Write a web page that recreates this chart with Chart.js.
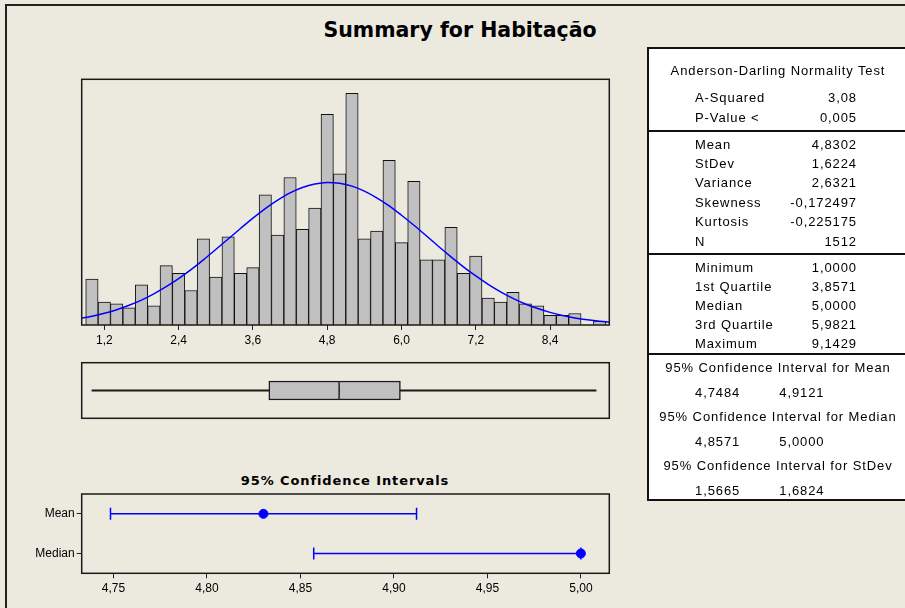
<!DOCTYPE html>
<html>
<head>
<meta charset="utf-8">
<title>Summary for Habitação</title>
<script src="https://cdn.jsdelivr.net/npm/chart.js@4.4.1/dist/chart.umd.min.js"></script>
<style>
  body { margin: 0; width: 905px; height: 608px; overflow: hidden; position: relative;
         background: #ECE9DF; font-family: 'Liberation Sans', Arial, sans-serif; color: #000; }
  #frame { position: absolute; left: 5px; top: 4px; width: 1000px; height: 700px;
           border: 2px solid #222; box-sizing: border-box; }
  #title { position: absolute; left: 210px; width: 500px; top: 18px; height: 26px; line-height: 26px;
           text-align: center; font: bold 20.5px 'DejaVu Sans', sans-serif; }
  #ciTitle { position: absolute; left: 195px; width: 300px; top: 473px; height: 18px; line-height: 18px;
             text-align: center; font: bold 13px 'DejaVu Sans', sans-serif; letter-spacing: 0.9px; }
  #statBox { position: absolute; left: 647px; top: 47px; width: 300px; height: 454px;
             background: #fff; border: 2px solid #111; box-sizing: border-box; }
  .rule { position: absolute; left: 647px; width: 300px; height: 2px; background: #111; }
  .txt { position: absolute; height: 16px; line-height: 16px; font-size: 13px; letter-spacing: 0.9px;
         white-space: nowrap; }
  canvas { position: absolute; }
  #hist { left: 61px; top: 69px; }
  #box { left: 71px; top: 353px; }
  #ci { left: 20px; top: 484px; }
</style>
</head>
<body>
<div id="frame"></div>
<div id="title">Summary for Habitação</div>
<canvas id="hist" width="569" height="286"></canvas>
<canvas id="box" width="549" height="76"></canvas>
<div id="ciTitle">95% Confidence Intervals</div>
<canvas id="ci" width="600" height="120"></canvas>
<div id="statBox"></div>

<script>
// Histograma: centros das classes (largura 0,2) e contagens
const binCenters = [1.0, 1.2, 1.4, 1.6, 1.8, 2.0, 2.2, 2.4, 2.6, 2.8, 3.0, 3.2, 3.4, 3.6,
                    3.8, 4.0, 4.2, 4.4, 4.6, 4.8, 5.0, 5.2, 5.4, 5.6, 5.8, 6.0, 6.2, 6.4,
                    6.6, 6.8, 7.0, 7.2, 7.4, 7.6, 7.8, 8.0, 8.2, 8.4, 8.6, 8.8, 9.0, 9.2];
const binCounts = [24, 12, 11, 9, 21, 10, 31, 27, 18, 45, 25, 46, 27, 30,
                   68, 47, 77, 50, 61, 110, 79, 121, 45, 49, 86, 43, 75, 34,
                   34, 51, 27, 36, 14, 12, 17, 11, 10, 5, 5, 6, 0, 2];

// Curva normal ajustada (alturas estimadas no gráfico)
const curveX = [0.8, 1.0, 1.2, 1.4, 1.6, 1.8, 2.0, 2.2, 2.4, 2.6, 2.8, 3.0, 3.2, 3.4, 3.6,
                3.8, 4.0, 4.2, 4.4, 4.6, 4.8, 5.0, 5.2, 5.4, 5.6, 5.8, 6.0, 6.2, 6.4, 6.6,
                6.8, 7.0, 7.2, 7.4, 7.6, 7.8, 8.0, 8.2, 8.4, 8.6, 8.8, 9.0, 9.2, 9.4];
const curveY = [3.4, 4.6, 6.1, 8.0, 10.3, 13.0, 16.3, 20.0, 24.2, 28.9, 34.0, 39.4, 44.9, 50.4, 55.8,
                60.8, 65.2, 69.0, 71.8, 73.6, 74.4, 74.0, 72.5, 69.9, 66.4, 62.2, 57.3, 52.1, 46.6, 41.0,
                35.6, 30.4, 25.6, 21.2, 17.3, 13.9, 11.0, 8.6, 6.6, 5.0, 3.7, 2.7, 2.0, 1.4];

const histTicks = [1.2, 2.4, 3.6, 4.8, 6.0, 7.2, 8.4];
const histRange = [0.835, 9.356];

// Estatísticas
const adTest = [['A-Squared', '3,08'], ['P-Value <', '0,005']];
const moments = [['Mean', 4.8302, 4], ['StDev', 1.6224, 4], ['Variance', 2.6321, 4],
                 ['Skewness', -0.172497, 6], ['Kurtosis', -0.225175, 6], ['N', 1512, 0]];
const quartileLabels = ['Minimum', '1st Quartile', 'Median', '3rd Quartile', 'Maximum'];
const quartileValues = [1.0, 3.8571, 5.0, 5.9821, 9.1429];
const ciLabels = ['Mean', 'Median', 'StDev'];
const ciLow = [4.7484, 4.8571, 1.5665];
const ciHigh = [4.9121, 5.0000, 1.6824];
const ciTicks = [4.75, 4.80, 4.85, 4.90, 4.95, 5.00];
const ciRange = [4.733, 5.0152];

const fmt = (v, d) => v.toFixed(d).replace('.', ',');

Chart.defaults.font.family = "'Liberation Sans', Arial, sans-serif";
Chart.defaults.color = '#000';
Chart.defaults.animation = false;
Chart.defaults.plugins.legend.display = false;
Chart.defaults.plugins.tooltip.enabled = false;

// moldura preta em volta da área do gráfico
const frameBox = {
    id: 'frameBox',
    afterDraw(chart) {
        const { ctx, chartArea: a } = chart;
        ctx.save();
        ctx.strokeStyle = '#1a1a1a';
        ctx.lineWidth = 1.5;
        ctx.strokeRect(a.left, a.top, a.right - a.left, a.bottom - a.top);
        ctx.restore();
    }
};

// Histograma + curva normal
new Chart(document.getElementById('hist'), {
    type: 'bar',
    data: {
        datasets: [
            {
                type: 'line',
                data: curveX.map((x, i) => ({ x: x, y: curveY[i] })),
                borderColor: '#0000FF',
                borderWidth: 1.5,
                pointRadius: 0,
                cubicInterpolationMode: 'monotone',
                fill: false,
                order: 0
            },
            {
                data: binCenters.map((x, i) => ({ x: x, y: binCounts[i] })),
                backgroundColor: '#C0C0C0',
                borderColor: '#111',
                borderWidth: 1,
                borderSkipped: 'bottom',
                barPercentage: 1,
                categoryPercentage: 1,
                order: 1
            }
        ]
    },
    options: {
        responsive: false,
        devicePixelRatio: 1,
        layout: { padding: { left: 20.7, right: 20.7, top: 10.3, bottom: 0 } },
        scales: {
            x: {
                type: 'linear',
                min: histRange[0],
                max: histRange[1],
                offset: false,
                afterBuildTicks: s => { s.ticks = histTicks.map(v => ({ value: v })); },
                afterFit: s => { s.height = 30; },
                ticks: { font: { size: 12 }, padding: 3, callback: v => fmt(v, 1) },
                grid: { offset: false, drawOnChartArea: false, tickLength: 5, color: '#222' },
                border: { display: false }
            },
            y: { display: false, min: 0, max: 128.3 }
        }
    },
    plugins: [frameBox]
});

// Boxplot
new Chart(document.getElementById('box'), {
    type: 'bar',
    data: {
        labels: [''],
        datasets: [
            {
                data: [[quartileValues[1], quartileValues[2]]],
                backgroundColor: '#C0C0C0', borderColor: '#1a1a1a', borderWidth: 1.5,
                borderSkipped: false, barThickness: 19, grouped: false, order: 1
            },
            {
                data: [[quartileValues[2], quartileValues[3]]],
                backgroundColor: '#C0C0C0', borderColor: '#1a1a1a', borderWidth: 1.5,
                borderSkipped: 'left', barThickness: 19, grouped: false, order: 1
            },
            {
                data: [[quartileValues[0], quartileValues[4]]],
                backgroundColor: '#1a1a1a', barThickness: 1.5, grouped: false, order: 2
            }
        ]
    },
    options: {
        responsive: false,
        devicePixelRatio: 1,
        indexAxis: 'y',
        layout: { padding: { left: 10.7, right: 10.7, top: 9.7, bottom: 10.7 } },
        scales: {
            x: { type: 'linear', min: histRange[0], max: histRange[1], display: false },
            y: { display: false }
        }
    },
    plugins: [frameBox]
});

// Intervalos de confiança 95%
const blue = '#0000FF';
new Chart(document.getElementById('ci'), {
    type: 'scatter',
    data: {
        datasets: [
            {
                data: [{ x: moments[0][1], y: 'Mean' }, { x: quartileValues[2], y: 'Median' }],
                pointStyle: 'circle', pointRadius: 4.5,
                backgroundColor: blue, borderColor: blue
            },
            {
                data: [{ x: ciLow[0], y: 'Mean' }, { x: ciHigh[0], y: 'Mean' }],
                showLine: true, borderColor: blue, borderWidth: 1.5,
                pointStyle: 'line', pointRotation: 90, pointRadius: 6,
                pointBorderColor: blue, pointBorderWidth: 1.5
            },
            {
                data: [{ x: ciLow[1], y: 'Median' }, { x: ciHigh[1], y: 'Median' }],
                showLine: true, borderColor: blue, borderWidth: 1.5,
                pointStyle: 'line', pointRotation: 90, pointRadius: 6,
                pointBorderColor: blue, pointBorderWidth: 1.5
            }
        ]
    },
    options: {
        responsive: false,
        devicePixelRatio: 1,
        layout: { padding: { left: 0, right: 10.7, top: 10, bottom: 0.7 } },
        scales: {
            x: {
                type: 'linear',
                min: ciRange[0],
                max: ciRange[1],
                afterBuildTicks: s => { s.ticks = ciTicks.map(v => ({ value: v })); },
                afterFit: s => { s.height = 30; },
                ticks: { font: { size: 12, family: "'Liberation Sans Narrow', 'Liberation Sans', Arial" }, padding: 3,
                         callback: v => fmt(v, 2) },
                grid: { drawOnChartArea: false, tickLength: 5, color: '#222' },
                border: { display: false }
            },
            y: {
                type: 'category',
                labels: ['Mean', 'Median'],
                offset: true,
                afterFit: s => { s.width = 61.7; },
                ticks: { font: { size: 12, family: "'Liberation Sans Narrow', 'Liberation Sans', Arial" }, padding: 2 },
                grid: { drawOnChartArea: false, tickLength: 5, color: '#222', offset: false },
                border: { display: false }
            }
        }
    },
    plugins: [frameBox]
});

// Tabela de estatísticas
function putText(str, x, y, align) {
    const d = document.createElement('div');
    d.className = 'txt';
    d.textContent = str;
    d.style.top = (y - 8) + 'px';
    if (align === 'left') {
        d.style.left = x + 'px';
    } else if (align === 'right') {
        d.style.right = (905 - x) + 'px';
    } else {
        d.style.left = (x - 150) + 'px';
        d.style.width = '300px';
        d.style.textAlign = 'center';
    }
    document.body.appendChild(d);
}
function putRule(y) {
    const r = document.createElement('div');
    r.className = 'rule';
    r.style.top = (y - 1) + 'px';
    document.body.appendChild(r);
}

const labelX = 695, valueX = 857, centerX = 778;
putText('Anderson-Darling Normality Test', centerX, 71, 'center');
adTest.forEach((r, i) => {
    putText(r[0], labelX, 97.5 + i * 20, 'left');
    putText(r[1], valueX, 97.5 + i * 20, 'right');
});
putRule(130.5);
moments.forEach((r, i) => {
    putText(r[0], labelX, 144.5 + i * 19.4, 'left');
    putText(fmt(r[1], r[2]), valueX, 144.5 + i * 19.4, 'right');
});
putRule(254.3);
quartileLabels.forEach((lab, i) => {
    putText(lab, labelX, 268 + i * 19, 'left');
    putText(fmt(quartileValues[i], 4), valueX, 268 + i * 19, 'right');
});
putRule(353.5);
ciLabels.forEach((lab, i) => {
    const y = 368.3 + i * 49;
    putText('95% Confidence Interval for ' + lab, centerX, y, 'center');
    putText(fmt(ciLow[i], 4), labelX, y + 24.5, 'left');
    putText(fmt(ciHigh[i], 4), 779.3, y + 24.5, 'left');
});
</script>
</body>
</html>
